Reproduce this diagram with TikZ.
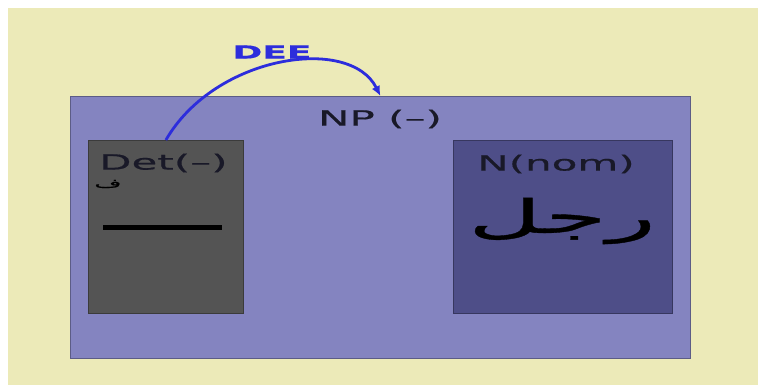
\documentclass[tikz,border=0pt]{standalone}
\usepackage{fontspec}
\setmainfont[FakeStretch=2.0,FakeBold=0.6]{DejaVu Sans}
\newfontfamily\arabicfont[Script=Arabic,FakeStretch=2.2,FakeBold=0.8]{DejaVu Sans}
\TeXXeTstate=1
\usetikzlibrary{arrows.meta}
\definecolor{bgyellow}{RGB}{236,234,184}
\definecolor{npfill}{RGB}{132,132,192}
\definecolor{detfill}{RGB}{84,84,84}
\definecolor{nfill}{RGB}{78,78,136}
\definecolor{arrowblue}{RGB}{45,45,220}
\definecolor{labtext}{RGB}{25,25,40}
\tikzset{
  box/.style={draw=#1!70!black, line width=0.8pt, anchor=north west, inner sep=0pt},
  lab/.style={inner sep=0pt, text=labtext, font=\fontsize{21}{24}\selectfont},
}
\begin{document}
\begin{tikzpicture}[x=1pt,y=-1pt]
\useasboundingbox (0,0) rectangle (758,390);
\fill[white] (0,0) rectangle (758,390);
\fill[bgyellow] (8,8) rectangle (758,385);
\node[box=npfill, fill=npfill, minimum width=620pt, minimum height=262pt] (np) at (70,96) {};
\node[box=detfill, fill=detfill, minimum width=155pt, minimum height=173pt] (det) at (88,140) {};
\node[box=nfill, fill=nfill, minimum width=219pt, minimum height=173pt] (n) at (453,140) {};
\node[lab] (nplab) at (380,119) {NP (–)};
\node[lab, anchor=west] (detlab) at (99,163) {Det(–)};
\node[inner sep=0pt, text=black, font=\arabicfont\fontsize{12}{14}\selectfont] (detar) at (108,184) {\beginR ف\endR};
\coordinate (ls) at (103,228);
\coordinate (le) at (222,228);
\draw[line width=5pt, black] (ls) -- (le);
\node[lab] (nlab) at (556,164) {N(nom)};
\node[inner sep=0pt, text=black, font=\arabicfont\fontsize{46}{52}\selectfont] (word) at (562,221) {\beginR رجل\endR};
\node[inner sep=0pt, text=arrowblue, font=\bfseries\fontsize{18}{20}\selectfont] (dee) at (272,52) {DEE};
\draw[arrowblue, line width=2.8pt, -{Latex[length=10pt,width=9pt]}]
  (det.north) .. controls (215,55) and (350,35) .. (np.north);
\end{tikzpicture}
\end{document}
